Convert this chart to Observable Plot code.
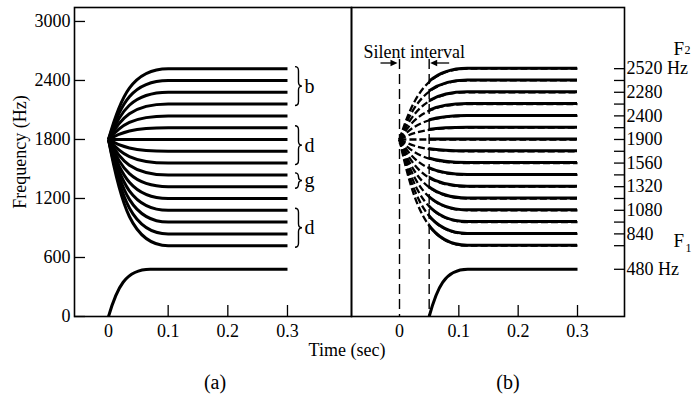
<!DOCTYPE html>
<html>
<head>
<meta charset="utf-8">
<script src="https://cdn.jsdelivr.net/npm/d3@7"></script>
<script src="https://cdn.jsdelivr.net/npm/@observablehq/plot@0.6"></script>
<style>
  body { margin: 0; background: #fff; }
  #chart { position: relative; width: 695px; height: 396px; font-family: "Liberation Serif", "Times New Roman", serif; color: #000; }
  #chart svg { position: absolute; top: 0; overflow: visible; }
  .cap { position: absolute; white-space: nowrap; transform: translateX(-50%); }
</style>
</head>
<body>
<div id="chart"></div>
<script>
// Second-formant (F2) steady-state targets in Hz, top to bottom
const f2Targets = [2520, 2400, 2280, 2160, 2040, 1920, 1800, 1680, 1560, 1440, 1320, 1200, 1080, 960, 840, 720];
const f2Locus = 1800;        // common starting point of every F2 transition
const f1Target = 480;        // first-formant steady state

// Timing in seconds
const f2TransEndA = 0.10;
const f1TransEndA = 0.07;
const silentInterval = [0, 0.05];
const f2TransEndB = 0.115;
const f1TransEndB = 0.115;
const steadyEnd = 0.3;

// Axis ticks
const freqTicks = [0, 600, 1200, 1800, 2400, 3000];
const timeTicks = [0, 0.1, 0.2, 0.3];
const timeTickMarks = [0.1, 0.2, 0.3];

// Right-hand frequency scale of panel (b)
const rightTickFreqs = [...f2Targets, f1Target];
const rightLabelFreqs = [2520, 2280, 2040, 1800, 1560, 1320, 1080, 840, 480];
const rightLabelTexts = ["2520 Hz", "2280", "2400", "1900", "1560", "1320", "1080", "840", "480 Hz"];

// Consonant heard for each group of F2 transitions in panel (a)
const groupLabels = ["b", "d", "g", "d"];
const groupTop = [2520, 1920, 1440, 1080];
const groupBottom = [2160, 1560, 1320, 720];

// ---- curve tables ----
const f2CurvesA = f2Targets.flatMap((target, id) => [
  {id, t: 0, f: f2Locus}, {id, t: f2TransEndA, f: target}, {id, t: steadyEnd, f: target}
]);
const f1CurveA = [{t: 0, f: 0}, {t: f1TransEndA, f: f1Target}, {t: steadyEnd, f: f1Target}];
const f2CurvesB = f2Targets.flatMap((target, id) => [
  {id, t: silentInterval[0], f: f2Locus}, {id, t: f2TransEndB, f: target}, {id, t: steadyEnd, f: target}
]);
const f1CurveB = [{t: silentInterval[1], f: 0}, {t: f1TransEndB, f: f1Target}, {t: steadyEnd, f: f1Target}];
const groups = groupLabels.map((label, i) => ({label, top: groupTop[i], bottom: groupBottom[i], mid: (groupTop[i] + groupBottom[i]) / 2}));
const rightLabels = rightLabelFreqs.map((f, i) => ({f, text: rightLabelTexts[i]}));

// Formant transition curve: each segment leaves its start point steeply and
// arrives at its end point horizontally; flat segments stay straight.
const LEAD = 0.2, BEND = 0.6;
function transitionCurve(context) {
  let x0, y0, n = 0;
  return {
    areaStart() {}, areaEnd() {},
    lineStart() { n = 0; },
    lineEnd() {},
    point(x, y) {
      x = +x; y = +y;
      if (n++ === 0) context.moveTo(x, y);
      else context.bezierCurveTo(x0 + LEAD * (x - x0), y0 + BEND * (y - y0), x - BEND * (x - x0), y, x, y);
      x0 = x; y0 = y;
    }
  };
}

// ---- layout ----
const H = 396, mTop = 7, mBottom = 80;
const innerH = H - mTop - mBottom;
const yDomain = [0, 3142];
const font = '"Liberation Serif", "Times New Roman", serif';
const baseStyle = {fontFamily: font, fontSize: "18px", background: "transparent", overflow: "visible", color: "black"};
const tickLen = 11;
const curveStyle = {x: "t", y: "f", curve: transitionCurve, stroke: "black", strokeWidth: 3, strokeLinecap: "butt"};

// Curly braces grouping the F2 lines, drawn to the right of the steady states
function braces(index, scales) {
  const g = d3.create("svg:g").attr("fill", "none").attr("stroke", "black").attr("stroke-width", 1.4);
  const x0 = scales.x(steadyEnd) + 8, w = 7, r = 4;
  for (const grp of groups) {
    const y0 = scales.y(grp.top) - 1.5, y1 = scales.y(grp.bottom) + 2, ym = (y0 + y1) / 2, xm = x0 + w / 2;
    g.append("path").attr("d",
      `M${x0},${y0}Q${xm},${y0} ${xm},${y0 + r}L${xm},${ym - r}Q${xm},${ym} ${x0 + w},${ym}` +
      `Q${xm},${ym} ${xm},${ym + r}L${xm},${y1 - r}Q${xm},${y1} ${x0},${y1}`);
  }
  return g.node();
}

// Arrows pointing in at the two edges of the silent interval
function silenceArrows(index, scales, values, dims) {
  const y = dims.marginTop + 56;
  const g = d3.create("svg:g").attr("stroke", "black").attr("fill", "black").attr("stroke-width", 1.3);
  const xa = scales.x(silentInterval[0]) - 1.5, xb = scales.x(silentInterval[1]) + 1.5;
  g.append("line").attr("x1", xa - 17).attr("x2", xa - 5).attr("y1", y).attr("y2", y);
  g.append("path").attr("stroke", "none").attr("d", `M${xa},${y}L${xa - 7},${y - 3.2}L${xa - 7},${y + 3.2}Z`);
  g.append("line").attr("x1", xb + 19).attr("x2", xb + 5).attr("y1", y).attr("y2", y);
  g.append("path").attr("stroke", "none").attr("d", `M${xb},${y}L${xb + 7},${y - 3.2}L${xb + 7},${y + 3.2}Z`);
  return g.node();
}

// Solid part of the panel-(b) F2 curves, after the silent interval
function voicedF2(index, scales, values, dims) {
  const g = d3.create("svg:g");
  const xs = scales.x(silentInterval[1]);
  g.append("clipPath").attr("id", "after-silence").append("rect")
    .attr("x", xs).attr("y", 0).attr("width", dims.width - xs).attr("height", dims.height);
  const line = d3.line().x(d => scales.x(d.t)).y(d => scales.y(d.f)).curve(transitionCurve);
  g.append("g").attr("clip-path", "url(#after-silence)")
    .attr("fill", "none").attr("stroke", "black").attr("stroke-width", 3)
    .selectAll("path").data(d3.groups(f2CurvesB, d => d.id)).join("path")
    .attr("d", ([, pts]) => line(pts));
  return g.node();
}

// ---- panel (a) ----
const wA = 351, mlA = 74;
const plotA = Plot.plot({
  width: wA, height: H, marginLeft: mlA, marginRight: 0, marginTop: mTop, marginBottom: mBottom,
  style: baseStyle,
  x: {domain: [-0.057, 0.4073], ticks: timeTicks, tickSize: 0, tickPadding: 8, tickFormat: d3.format("~g"), label: null},
  y: {domain: yDomain, ticks: freqTicks, tickSize: 0, tickPadding: 4, tickFormat: d3.format("d"), label: null},
  marks: [
    Plot.frame({stroke: "black", strokeWidth: 1.6}),
    Plot.tickY(freqTicks, {y: d => d, insetRight: wA - mlA - tickLen, stroke: "black", strokeWidth: 1.3}),
    Plot.tickX(timeTickMarks, {x: d => d, insetTop: innerH - tickLen, stroke: "black", strokeWidth: 1.3}),
    Plot.line(f2CurvesA, {...curveStyle, z: "id"}),
    Plot.line(f1CurveA, curveStyle),
    braces,
    Plot.text(groups, {x: () => steadyEnd, y: "mid", text: "label", dx: 17, textAnchor: "start", fontSize: 20}),
    Plot.text(["Frequency (Hz)"], {frameAnchor: "left", textAnchor: "middle", rotate: -90, dx: -54, dy: -10, fontSize: 18})
  ]
});

// ---- panel (b) ----
const wB = 344, mrB = 71;
const plotB = Plot.plot({
  width: wB, height: H, marginLeft: 0, marginRight: mrB, marginTop: mTop, marginBottom: mBottom,
  style: baseStyle,
  x: {domain: [-0.0809, 0.3792], ticks: timeTicks, tickSize: 0, tickPadding: 8, tickFormat: d3.format("~g"), label: null},
  y: {domain: yDomain, axis: null},
  marks: [
    Plot.frame({stroke: "black", strokeWidth: 1.6}),
    Plot.tickX(timeTickMarks, {x: d => d, insetTop: innerH - tickLen, stroke: "black", strokeWidth: 1.3}),
    Plot.tickY(rightTickFreqs, {y: d => d, insetLeft: wB - mrB - 10, stroke: "black", strokeWidth: 1.3}),
    Plot.text(rightLabels, {y: "f", text: "text", frameAnchor: "right", textAnchor: "start", dx: 2, fontSize: 18}),
    Plot.text(["F"], {frameAnchor: "top-right", textAnchor: "start", dx: 49, dy: 34, fontSize: 19}),
    Plot.text(["2"], {frameAnchor: "top-right", textAnchor: "start", dx: 60, dy: 38, fontSize: 12}),
    Plot.text(["F"], {frameAnchor: "bottom-right", textAnchor: "start", dx: 49, dy: -70, fontSize: 19}),
    Plot.text(["1"], {frameAnchor: "bottom-right", textAnchor: "start", dx: 61, dy: -65, fontSize: 12}),
    Plot.ruleX(silentInterval, {insetTop: 52, stroke: "black", strokeWidth: 1.4, strokeDasharray: "10,5"}),
    Plot.line(f2CurvesB, {...curveStyle, z: "id", strokeWidth: 2.3, strokeDasharray: "7,3"}),
    voicedF2,
    Plot.line(f1CurveB, curveStyle),
    silenceArrows,
    Plot.text(["Silent interval"], {x: () => d3.mean(silentInterval), frameAnchor: "top", dy: 38, fontSize: 18})
  ]
});

const chart = document.getElementById("chart");
plotA.style.left = "0px";
plotB.style.left = "351px";
chart.append(plotA, plotB);

// Shared axis title and panel captions
for (const [text, left, top, size] of [["Time (sec)", 347, 341, 18], ["(a)", 215, 372, 20], ["(b)", 508, 372, 20]]) {
  const div = document.createElement("div");
  div.className = "cap";
  div.textContent = text;
  div.style.left = left + "px";
  div.style.top = top + "px";
  div.style.fontSize = size + "px";
  div.style.lineHeight = size + "px";
  chart.append(div);
}
</script>
</body>
</html>
